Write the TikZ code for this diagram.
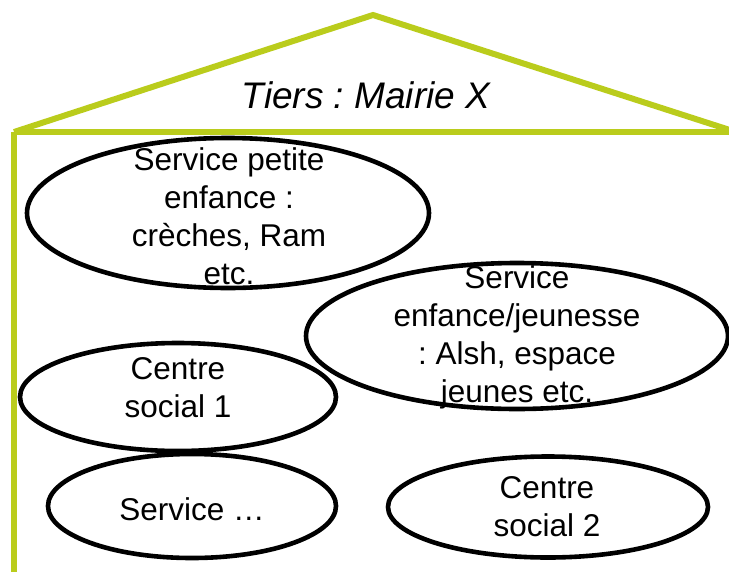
\documentclass[tikz,border=0pt]{standalone}
\usepackage{fontspec}
\setmainfont{Liberation Sans}
\usetikzlibrary{shapes.geometric}
\definecolor{roofgreen}{RGB}{186,204,28}
\frenchspacing

\begin{document}
\begin{tikzpicture}[x=1pt,y=-1pt,
   wall/.style={draw=roofgreen,line width=6pt,line join=miter},
   blob/.style={ellipse,draw,line width=4.6pt,inner sep=0pt},
   blabel/.style={align=center,inner sep=0pt,font=\fontsize{31.5}{38}\selectfont}]
   \useasboundingbox (0,0) rectangle (729,571);
   % house
   \coordinate (eave_l) at (14,132);
   \coordinate (apex) at (373,15);
   \coordinate (eave_r) at (736,132);
   \coordinate (floor_l) at (14,580);
   \draw[wall] (eave_l) -- (apex) -- (eave_r);
   \draw[wall] (eave_l) -- (eave_r);
   \draw[wall] (eave_l) -- (floor_l);
   \node[font=\itshape\fontsize{37}{44}\selectfont] (tiers) at (366,95) {Tiers : Mairie X};
   % services
   \node[blob,minimum width=402pt,minimum height=150pt] (petite) at (228,213) {};
   \node[blabel] (petite_t) at (229,216) {Service petite\\enfance :\\crèches, Ram\\etc.};
   \node[blob,minimum width=422pt,minimum height=146pt] (jeunesse) at (517,336) {};
   \node[blabel] (jeunesse_t) at (517,337) {Service\\enfance/jeunesse\\: Alsh, espace\\jeunes etc.};
   \node[blob,minimum width=316pt,minimum height=108pt] (social_a) at (178,397) {};
   \node[blabel] (social_a_t) at (178,388) {Centre\\social 1};
   \node[blob,minimum width=288pt,minimum height=104pt] (autre) at (192,506) {};
   \node[blabel] (autre_t) at (192,509) {Service …};
   \node[blob,minimum width=320pt,minimum height=101pt] (social_b) at (548,507) {};
   \node[blabel] (social_b_t) at (547,507) {Centre\\social 2};
\end{tikzpicture}
\end{document}
